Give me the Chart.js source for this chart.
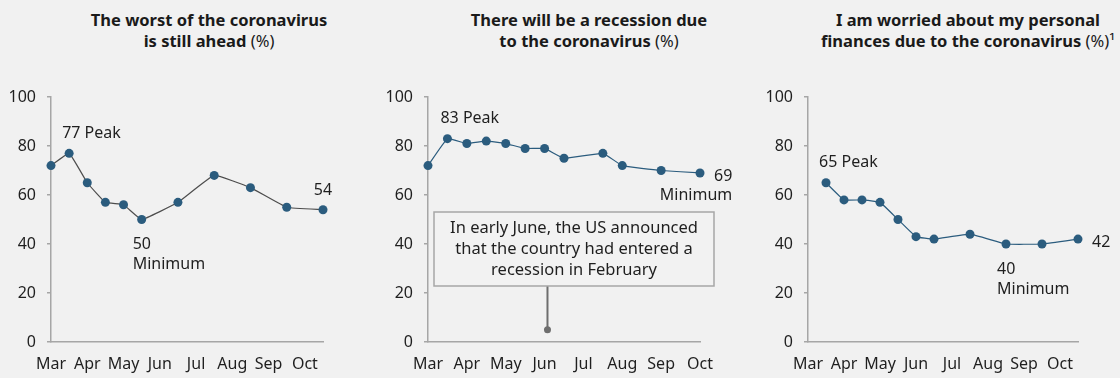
<!DOCTYPE html>
<html>
<head>
<meta charset="utf-8">
<script src="https://cdn.jsdelivr.net/npm/chart.js@4"></script>
<style>
  body { margin: 0; background: #f1f1f1; }
  #wrap { position: relative; width: 1120px; height: 378px; overflow: hidden; background: #f1f1f1; }
  canvas { position: absolute; top: 0; }
  .title {
    position: absolute; top: 9px; transform: translateX(-50%);
    white-space: nowrap; text-align: center;
    font-family: "Noto Sans", sans-serif; font-weight: 700; font-size: 16.5px;
    line-height: 21px; color: #1a1a1a;
  }
  .title span { font-weight: 400; }
</style>
</head>
<body>
<div id="wrap">
  <div class="title" style="left:209px">The worst of the coronavirus<br>is still ahead <span>(%)</span></div>
  <div class="title" style="left:589px">There will be a recession due<br>to the coronavirus <span>(%)</span></div>
  <div class="title" style="left:968px">I am worried about my personal<br>finances due to the coronavirus <span>(%)¹</span></div>
  <canvas id="graficoPeor" width="373" height="378" style="left:0px"></canvas>
  <canvas id="graficoRecesion" width="373" height="378" style="left:377px"></canvas>
  <canvas id="graficoFinanzas" width="363" height="378" style="left:757px"></canvas>
</div>
<script>
// Datos (posiciones en medios meses desde marzo)
const monthLabels = ['Mar', 'Apr', 'May', 'Jun', 'Jul', 'Aug', 'Sep', 'Oct'];
const monthSlots = [0, 2, 4, 6, 8, 10, 12, 14];
const yTicks = [0, 20, 40, 60, 80, 100];

const worstSlots = [0, 1, 2, 3, 4, 5, 7, 9, 11, 13, 15];
const worstValues = [72, 77, 65, 57, 56, 50, 57, 68, 63, 55, 54];

const recessionSlots = [0, 1, 2, 3, 4, 5, 6, 7, 9, 10, 12, 14];
const recessionValues = [72, 83, 81, 82, 81, 79, 79, 75, 77, 72, 70, 69];

const financesSlots = [1, 2, 3, 4, 5, 6, 7, 9, 11, 13, 15];
const financesValues = [65, 58, 58, 57, 50, 43, 42, 44, 40, 40, 42];

// Etiquetas de puntos
const worstCallouts = [
  { i: 1, lines: ['77 Peak'], place: 'peak' },
  { i: 5, lines: ['50', 'Minimum'], place: 'below' },
  { i: 10, lines: ['54'], place: 'above' }
];
const recessionCallouts = [
  { i: 1, lines: ['83 Peak'], place: 'peak' },
  { i: 11, lines: ['69', 'Minimum'], place: 'right' }
];
const financesCallouts = [
  { i: 0, lines: ['65 Peak'], place: 'peak' },
  { i: 8, lines: ['40', 'Minimum'], place: 'below' },
  { i: 10, lines: ['42'], place: 'right' }
];

// Nota del gráfico de recesión
const noteLines = ['In early June, the US announced', 'that the country had entered a', 'recession in February'];
const noteSlot = 6.15;
const noteDotValue = 5;

const FONT = '"Noto Sans", sans-serif';
const TEXT = '#1f1f1f';
const AXIS = '#a6a6a6';
const BLUE = '#2b5c7e';

const calloutPlugin = {
  id: 'callouts',
  afterDatasetsDraw(chart, args, opts) {
    const ctx = chart.ctx;
    const pts = chart.getDatasetMeta(0).data;
    ctx.save();
    ctx.font = `16px ${FONT}`;
    ctx.fillStyle = TEXT;
    ctx.textBaseline = 'middle';
    (opts.items || []).forEach(c => {
      const p = pts[c.i];
      if (c.place === 'peak') {
        ctx.textAlign = 'left';
        ctx.fillText(c.lines[0], p.x - 7, p.y - 20);
      } else if (c.place === 'above') {
        ctx.textAlign = 'center';
        ctx.fillText(c.lines[0], p.x, p.y - 19);
      } else if (c.place === 'below') {
        ctx.textAlign = 'left';
        c.lines.forEach((t, k) => ctx.fillText(t, p.x - 9, p.y + 25 + k * 20));
      } else if (c.place === 'right') {
        ctx.textAlign = 'left';
        ctx.fillText(c.lines[0], p.x + 14, p.y + 3);
        if (c.lines[1]) {
          const w = ctx.measureText(c.lines[0]).width;
          ctx.textAlign = 'right';
          ctx.fillText(c.lines[1], p.x + 14 + w, p.y + 22);
        }
      }
    });
    ctx.restore();
  }
};

const notePlugin = {
  id: 'note',
  afterDraw(chart, args, opts) {
    if (!opts.lines) return;
    const { ctx, chartArea, scales } = chart;
    const x = scales.x.getPixelForValue(opts.slot);
    const yDot = scales.y.getPixelForValue(opts.dotValue);
    const left = chartArea.left + 6, right = chartArea.left + 286;
    const top = chartArea.top + 115, bottom = chartArea.top + 189;
    ctx.save();
    ctx.strokeStyle = '#6e6e6e';
    ctx.lineWidth = 2;
    ctx.beginPath();
    ctx.moveTo(x, bottom);
    ctx.lineTo(x, yDot);
    ctx.stroke();
    ctx.fillStyle = '#6e6e6e';
    ctx.beginPath();
    ctx.arc(x, yDot, 3.5, 0, Math.PI * 2);
    ctx.fill();
    ctx.fillStyle = '#f2f2f2';
    ctx.fillRect(left, top, right - left, bottom - top);
    ctx.strokeStyle = AXIS;
    ctx.lineWidth = 1.5;
    ctx.strokeRect(left, top, right - left, bottom - top);
    ctx.fillStyle = TEXT;
    ctx.font = `16.5px ${FONT}`;
    ctx.textAlign = 'center';
    ctx.textBaseline = 'middle';
    const cx = (left + right) / 2;
    opts.lines.forEach((t, k) => ctx.fillText(t, cx, top + 16 + k * 21));
    ctx.restore();
  }
};

const configLinea = (slots, values, xMax, lineColor, callouts, padRight, note) => ({
  type: 'line',
  data: {
    datasets: [{
      data: slots.map((s, k) => ({ x: s, y: values[k] })),
      borderColor: lineColor,
      borderWidth: 1.2,
      pointBackgroundColor: BLUE,
      pointBorderWidth: 0,
      pointRadius: 4.5,
      tension: 0.1,
      clip: false
    }]
  },
  options: {
    responsive: false,
    animation: false,
    devicePixelRatio: 1,
    layout: { padding: { top: 97, right: padRight, bottom: 1, left: 0 } },
    plugins: {
      legend: { display: false },
      tooltip: { enabled: false },
      callouts: { items: callouts },
      note: note || {}
    },
    scales: {
      x: {
        type: 'linear',
        min: 0,
        max: xMax,
        afterBuildTicks: axis => { axis.ticks = monthSlots.map(v => ({ value: v })); },
        afterFit: axis => { axis.height = 35; },
        ticks: {
          autoSkip: false,
          maxRotation: 0,
          padding: 13,
          color: TEXT,
          font: { family: FONT, size: 16 },
          callback: v => monthLabels[monthSlots.indexOf(v)]
        },
        grid: { display: false, drawTicks: false },
        border: { color: AXIS, width: 1.5 }
      },
      y: {
        min: 0,
        max: 100,
        afterBuildTicks: axis => { axis.ticks = yTicks.map(v => ({ value: v })); },
        afterFit: axis => { axis.width = 51; },
        ticks: {
          padding: 11,
          color: TEXT,
          font: { family: FONT, size: 16 }
        },
        grid: { drawOnChartArea: false, drawTicks: true, tickLength: 4, color: AXIS, lineWidth: 1.5 },
        border: { color: AXIS, width: 1.5 }
      }
    }
  },
  plugins: [calloutPlugin, notePlugin]
});

new Chart(document.getElementById('graficoPeor'),
  configLinea(worstSlots, worstValues, 15, '#4d4d4d', worstCallouts, 50));
new Chart(document.getElementById('graficoRecesion'),
  configLinea(recessionSlots, recessionValues, 14, BLUE, recessionCallouts, 50,
    { lines: noteLines, slot: noteSlot, dotValue: noteDotValue }));
new Chart(document.getElementById('graficoFinanzas'),
  configLinea(financesSlots, financesValues, 15, BLUE, financesCallouts, 42));
</script>
</body>
</html>
